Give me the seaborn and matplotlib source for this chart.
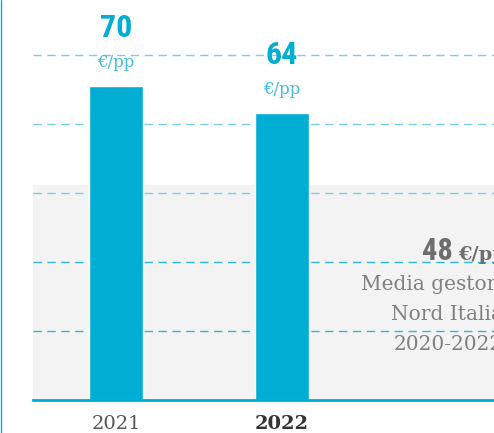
import matplotlib
matplotlib.use("Agg")

import matplotlib.pyplot as plt
from matplotlib import font_manager
from matplotlib.lines import Line2D

import seaborn as sns


# data
years = ["2021", "2022"]
costs = [70, 64]
unit_label = "€/pp"

average_value = 48
average_lines = ["Media gestori", "Nord Italia", "2020-2022"]

grid_values = [15.4, 30.8, 46.2, 61.6, 77.0]

BLUE = "#00AED3"
LIGHT_BLUE = "#3FC0E0"
GRID_LIGHT = "#79D0E5"
GRID_DARK = "#2DB6D8"
BAND_GRAY = "#F3F3F3"

SLAB_FONT = ["DejaVu Serif"]


def pick_condensed():
    # the original uses a narrow display face for the big numbers
    fonts = font_manager.fontManager.ttflist
    names = {f.name for f in fonts}

    for name in [
        "Roboto Condensed",
        "Liberation Sans Narrow",
        "Open Sans Condensed",
        "Noto Sans Condensed",
    ]:
        if name in names:
            return {"family": name, "fontstretch": "normal"}

    for f in fonts:
        if f.name == "DejaVu Sans" and f.stretch == "condensed":
            return {"family": "DejaVu Sans", "fontstretch": "condensed"}

    return {"family": "DejaVu Sans", "fontstretch": "normal"}


def plot_costs():

    sns.set_style("white")

    num_font = pick_condensed()

    fig = plt.figure(figsize=(4.94, 4.33), dpi=100)

    ax = fig.add_axes([33 / 494, 33 / 433, 498 / 494, 400 / 433])

    # gray band for the northern italy average
    ax.axhspan(0, average_value, color=BAND_GRAY, zorder=0, lw=0)

    for i, g in enumerate(grid_values):
        ax.axhline(
            g,
            color=GRID_DARK if i < 2 else GRID_LIGHT,
            lw=1,
            ls=(0, (6, 4)),
            zorder=1
        )

    sns.barplot(
        x=years,
        y=costs,
        color=BLUE,
        saturation=1,
        width=0.32,
        ax=ax,
        zorder=2
    )

    ax.set_xlim(-0.5, 2.5)
    ax.set_ylim(0, 89.2)

    for i, v in enumerate(costs):
        ax.annotate(
            str(v),
            (i, v),
            xytext=(0, 31),
            textcoords="offset points",
            ha="center",
            va="bottom",
            fontsize=23,
            fontweight="bold",
            color=BLUE,
            **num_font
        )
        ax.annotate(
            unit_label,
            (i, v),
            xytext=(0, 11),
            textcoords="offset points",
            ha="center",
            va="bottom",
            fontsize=12,
            family=SLAB_FONT,
            color=LIGHT_BLUE
        )

    # average annotation, partly cut off on the right like the original
    ax.text(
        2.03,
        average_value - 16.8,
        str(average_value),
        ha="right",
        va="baseline",
        fontsize=22,
        fontweight="bold",
        color="#6E6E6E",
        **num_font
    )
    ax.text(
        2.06,
        average_value - 16.8,
        unit_label,
        ha="left",
        va="baseline",
        fontsize=14,
        fontweight="bold",
        family=SLAB_FONT,
        color="#6E6E6E"
    )
    for k, line in enumerate(average_lines):
        ax.text(
            2.33,
            average_value - 23.5 - 6.7 * k,
            line,
            ha="right",
            va="baseline",
            fontsize=14.5,
            family=SLAB_FONT,
            color="#808080"
        )

    ax.set_xlabel("")
    ax.set_ylabel("")
    ax.set_yticks([])
    ax.tick_params(axis="x", length=0, pad=11)

    for lab in ax.get_xticklabels():
        lab.set_family(SLAB_FONT)
        lab.set_fontsize(14)
        if lab.get_text() == years[-1]:
            lab.set_fontweight("bold")
            lab.set_color("#333333")
        else:
            lab.set_color("#555555")

    for side in ["top", "right", "left"]:
        ax.spines[side].set_visible(False)

    ax.spines["bottom"].set_color(BLUE)
    ax.spines["bottom"].set_linewidth(2)
    ax.spines["bottom"].set_zorder(3)

    # thin blue rule on the left edge of the figure
    fig.add_artist(
        Line2D([0.003, 0.003], [0, 1], color=BLUE, lw=1)
    )

    fig.savefig("out.png", dpi=100)


if __name__ == "__main__":

    plot_costs()
